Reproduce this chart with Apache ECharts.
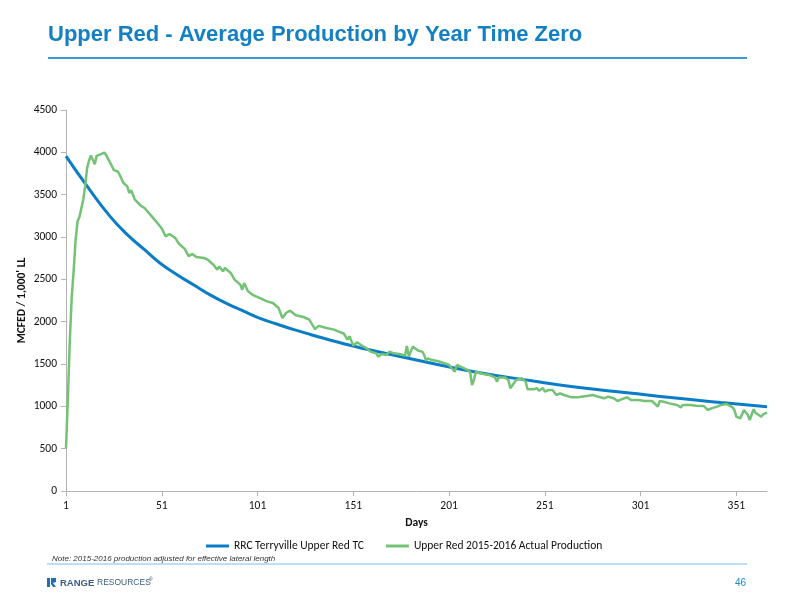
<!DOCTYPE html>
<html>
<head>
<meta charset="utf-8">
<script src="https://cdn.jsdelivr.net/npm/echarts@6/dist/echarts.min.js"></script>
<style>
html,body{margin:0;padding:0;background:#fff;}
#chart{width:800px;height:600px;}
</style>
</head>
<body>
<div id="chart"></div>
<script>
// ---- data ----
const dayCount = 367;
const tickLabels = ['1','51','101','151','201','251','301','351'];
const yTicks = [0,500,1000,1500,2000,2500,3000,3500,4000,4500];

const seriesNames = ['RRC Terryville Upper Red TC', 'Upper Red 2015-2016 Actual Production'];

// Type curve (blue)
const tcDays = [1,12,24,33,42,50,59,68,76,85,94,102,111,120,129,137,146,155,184,214,245,270,294,318,343,367];
const tcVals = [3955,3600,3244,3028,2850,2693,2555,2429,2319,2213,2122,2043,1972,1906,1846,1795,1740,1690,1547,1409,1299,1220,1161,1100,1045,996];

// Actual production (green)
const greenDays = [1,2,3,4,5,6,7,8,9,10,11,12,13,14,15,16,17,19,21,22,24,26,28,29,31,33,34,35,37,40,42,45,48,51,53,55,58,60,63,65,67,69,73,75,78,80,81,83,84,87,89,92,93,94,96,99,102,106,109,112,114,116,118,121,125,128,131,133,137,141,143,146,148,149,151,153,155,158,160,163,164,166,168,170,172,175,178,179,180,182,183,185,187,188,189,190,192,195,199,201,204,205,207,210,212,213,214,215,219,222,225,226,227,230,232,233,234,236,239,241,242,245,247,248,250,251,253,255,257,259,261,262,265,268,270,273,276,279,282,284,287,289,291,294,296,300,303,307,308,310,311,313,316,317,320,322,323,327,330,334,336,338,341,343,346,349,350,351,353,355,356,357,358,360,361,364,365,367];
const greenVals = [504,1100,1783,2295,2600,2964,3183,3235,3250,3440,3600,3811,3900,3963,3982,3860,3958,3975,3998,3965,3880,3790,3774,3736,3638,3598,3520,3551,3441,3370,3343,3264,3185,3100,3008,3035,2990,2920,2860,2775,2800,2764,2752,2732,2673,2614,2650,2595,2634,2575,2496,2437,2375,2457,2360,2310,2280,2240,2220,2161,2043,2105,2130,2075,2055,2024,1913,1950,1925,1906,1886,1860,1787,1827,1717,1756,1724,1685,1646,1626,1587,1619,1607,1646,1626,1619,1600,1712,1587,1705,1705,1657,1646,1607,1539,1567,1547,1536,1508,1488,1409,1488,1468,1437,1409,1252,1311,1409,1382,1370,1342,1291,1342,1342,1311,1213,1201,1311,1331,1291,1201,1201,1213,1185,1217,1173,1193,1193,1134,1154,1134,1142,1106,1106,1114,1122,1134,1114,1095,1114,1095,1063,1083,1106,1075,1075,1063,1063,1043,996,1063,1055,1035,1055,1016,988,1016,1016,1008,1004,957,976,996,1016,1028,988,957,878,858,957,937,898,839,965,925,878,906,925];

// ---- build ----
const categories = [];
for (let d = 1; d <= dayCount; d++) categories.push(String(d));
const pairs = (days, vals) => days.map((d, i) => [String(d), vals[i]]);

const labelFont = 'Carlito, "Liberation Sans Narrow", Lato, sans-serif';
const chart = echarts.init(document.getElementById('chart'), null, {renderer: 'canvas'});

chart.setOption({
  animation: false,
  backgroundColor: '#ffffff',
  grid: {left: 66, right: 33, top: 110, bottom: 109, containLabel: false},
  legend: {
    data: seriesNames,
    left: 201, top: 535,
    icon: 'rect', itemWidth: 23, itemHeight: 3, itemGap: 22,
    textStyle: {fontFamily: labelFont, fontSize: 11.5, color: '#111'}
  },
  xAxis: {
    type: 'category', data: categories, boundaryGap: false,
    name: 'Days', nameLocation: 'middle', nameGap: 26,
    nameTextStyle: {fontFamily: labelFont, fontWeight: 'bold', fontSize: 11.5, color: '#111'},
    axisLine: {lineStyle: {color: '#b3b3b3', width: 1}},
    axisTick: {show: true, interval: 49, length: 5, lineStyle: {color: '#b3b3b3'}},
    axisLabel: {interval: 49, margin: 9, fontFamily: labelFont, fontSize: 11.5, color: '#111',
      formatter: v => tickLabels.indexOf(v) >= 0 ? v : ''},
    splitLine: {show: false}
  },
  yAxis: {
    type: 'value', min: yTicks[0], max: yTicks[yTicks.length - 1], interval: 500,
    name: "MCFED / 1,000' LL", nameLocation: 'middle', nameGap: 38, nameRotate: 90,
    nameMoveOverlap: false,
    nameTextStyle: {fontFamily: labelFont, fontWeight: 'bold', fontSize: 11.5, color: '#111'},
    axisLine: {show: true, lineStyle: {color: '#b3b3b3', width: 1}},
    axisTick: {show: true, length: 5, lineStyle: {color: '#b3b3b3'}},
    axisLabel: {margin: 9, fontFamily: labelFont, fontSize: 11.5, color: '#111',
      formatter: v => String(v)},
    splitLine: {show: false}
  },
  series: [
    {
      name: seriesNames[0], type: 'line', data: pairs(tcDays, tcVals),
      color: '#0b7dc6', symbol: 'none', smooth: 0.5,
      lineStyle: {width: 3, color: '#0b7dc6'}, z: 2
    },
    {
      name: seriesNames[1], type: 'line', data: pairs(greenDays, greenVals),
      color: '#74c276', symbol: 'none', smooth: false,
      lineStyle: {width: 2.5, color: '#74c276'}, z: 3
    }
  ],
  graphic: [
    {type: 'text', left: 48, top: 24, style: {text: 'Upper Red - Average Production by Year Time Zero',
      font: 'bold 22px Arial, "Liberation Sans", sans-serif', fill: '#1480c4'}},
    {type: 'line', shape: {x1: 48, y1: 58, x2: 747, y2: 58}, style: {stroke: '#3d9ad6', lineWidth: 2}},
    {type: 'text', left: 52, top: 555, style: {text: 'Note: 2015-2016 production adjusted for effective lateral length',
      font: 'italic 8px Arial, "Liberation Sans", sans-serif', fill: '#333'}},
    {type: 'line', shape: {x1: 47, y1: 564, x2: 747, y2: 564}, style: {stroke: '#7bbde6', lineWidth: 1}},
    {type: 'rect', shape: {x: 47, y: 578, width: 3, height: 9}, style: {fill: '#1f6fb5'}},
    {type: 'polygon', shape: {points: [[51,578],[56,578],[56,582],[53,583],[56,587],[53,587],[51,584]]}, style: {fill: '#1f6fb5'}},
    {type: 'text', left: 60, top: 578, style: {text: 'RANGE', font: 'bold 9.5px Arial, "Liberation Sans", sans-serif', fill: '#3a5d86'}},
    {type: 'text', left: 97, top: 578, style: {text: 'RESOURCES', font: '8.5px Arial, "Liberation Sans", sans-serif', fill: '#3a5d86'}},
    {type: 'text', left: 149, top: 577, style: {text: '®', font: '5px Arial, sans-serif', fill: '#3a5d86'}},
    {type: 'text', left: 735, top: 578, style: {text: '46', font: '10px Arial, "Liberation Sans", sans-serif', fill: '#1a8ccc'}}
  ]
});
</script>
</body>
</html>
